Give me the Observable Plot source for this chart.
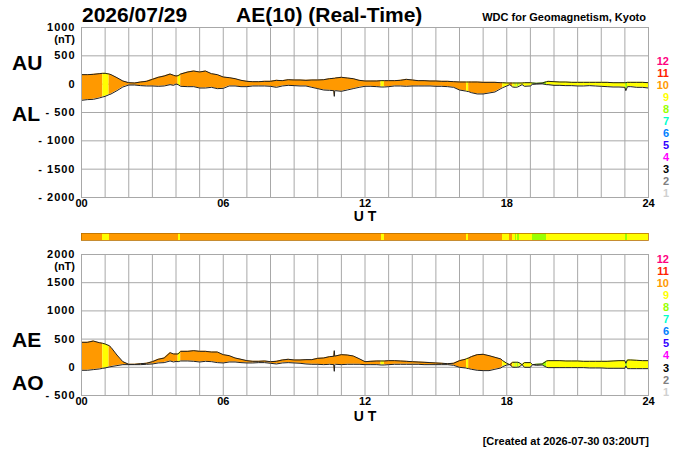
<!DOCTYPE html>
<html><head><meta charset="utf-8">
<script src="https://cdn.jsdelivr.net/npm/d3@7"></script>
<script src="https://cdn.jsdelivr.net/npm/@observablehq/plot@0.6"></script>
<style>
body{margin:0;background:#fff;}
#wrap{position:relative;width:700px;height:450px;overflow:hidden;background:#fff;}
#wrap svg{position:absolute;left:0;}
</style></head><body><div id="wrap"></div>
<script>
// ---- data (UT hours, nT) ----
const hours = [
  0,0.25,0.5,0.75,0.9,1,1.17,1.25,1.5,1.75,
  2,2.25,2.5,2.75,3,3.25,3.5,3.75,3.9,
  4,4.09,4.2,4.5,4.75,5,5.25,5.5,5.75,
  6,6.25,6.5,6.75,7,7.25,7.5,7.75,
  8,8.25,8.5,8.75,9,9.25,9.5,9.75,
  10,10.25,10.5,10.68,10.7,10.72,10.75,11,11.25,11.5,11.75,
  12,12.25,12.5,12.68,12.82,13,13.25,13.5,13.75,
  14,14.25,14.5,14.75,15,15.25,15.5,15.75,
  16,16.25,16.3,16.39,16.5,16.75,17,17.25,17.5,17.75,17.83,
  18,18.13,18.25,18.36,18.4,18.46,18.52,18.65,18.75,19,19.09,19.25,19.5,19.69,19.75,
  20,20.25,20.5,20.75,21,21.25,21.5,21.75,
  22,22.25,22.5,22.75,23,23.04,23.11,23.25,23.5,23.75,24
];
const au = [
  168,168,173,185,191,191,179,168,115,56,
  26,21,38,50,85,121,144,179,156,
  144,150,179,215,232,215,232,185,168,
  126,115,97,68,50,44,44,50,
  50,68,62,79,74,74,68,74,
  74,79,97,103,103,103,109,121,109,97,68,
  56,56,56,62,62,62,62,68,85,
  74,62,62,56,56,50,50,44,
  38,38,38,38,38,38,32,32,32,26,26,
  21,21,21,21,21,21,21,21,26,26,21,15,21,44,50,
  44,38,38,32,32,32,32,32,
  32,32,26,26,26,26,32,32,32,32,26
];
const al = [
  -285,-273,-268,-244,-226,-215,-185,-173,-115,-50,
  -15,-15,-26,-32,-32,-38,-32,-9,-21,
  3,-9,-38,-44,-44,-68,-68,-56,-79,
  -74,-32,-32,-44,-44,-32,-32,-32,
  -38,-56,-32,-21,-26,-32,-32,-56,
  -79,-103,-109,-115,-215,-115,-115,-126,-103,-79,-56,
  -38,-38,-44,-50,-50,-44,-32,-32,-38,
  -32,-32,-32,-32,-38,-38,-44,-56,
  -103,-121,-126,-132,-150,-173,-173,-156,-138,-79,-62,
  -32,-9,-50,-56,-56,-50,-38,-9,-38,-32,-3,3,9,-9,-9,
  -21,-21,-26,-26,-32,-32,-26,-32,
  -38,-44,-50,-50,-56,-115,-44,-44,-56,-56,-68
];
const ae = [
  443,443,466,437,425,413,384,354,218,100,
  53,53,65,71,100,142,165,260,236,
  236,236,283,283,295,283,283,271,271,
  224,207,165,142,118,106,106,112,
  100,106,130,142,130,130,136,136,
  159,165,189,195,295,195,201,224,218,201,153,
  100,106,112,112,112,118,118,112,106,
  100,94,89,83,77,71,65,71,
  118,142,153,165,189,224,230,207,177,148,118,
  71,47,89,89,89,89,83,47,83,83,47,53,59,112,118,
  118,118,112,112,112,106,106,106,
  106,106,112,118,118,71,130,130,124,118,118
];
const ao = [
  -53,-53,-41,-30,-18,-12,6,12,30,47,
  47,47,47,53,59,77,83,112,94,
  106,100,112,112,106,94,106,100,83,
  77,94,94,83,77,77,83,83,
  71,59,77,83,77,71,59,53,
  53,47,53,47,-71,47,53,47,53,53,53,
  47,47,47,41,41,47,53,53,53,
  53,53,47,47,47,47,47,35,
  0,-12,-18,-24,-35,-53,-59,-59,-35,-12,12,
  41,47,3,0,0,3,6,47,0,0,47,35,41,0,-6,
  -6,-6,-6,-6,-6,-6,-12,-12,
  -12,-18,-18,-18,-18,24,-24,-24,-24,-24,-24
];
// number of stations for the interval starting at each sample
const stations = [
  10,10,10,10,9,9,10,10,10,10,
  10,10,10,10,10,10,10,10,10,
  10,9,10,10,10,10,10,10,10,
  10,10,10,10,10,10,10,10,
  10,10,10,10,10,10,10,10,
  10,10,10,10,10,10,10,10,10,10,10,
  10,10,10,9,10,10,10,10,10,
  10,10,10,10,10,10,10,10,
  10,10,9,10,10,10,10,10,10,10,9,
  9,10,9,8,9,8,9,9,9,9,8,8,8,9,9,
  9,9,9,9,9,9,9,9,
  9,9,9,9,9,8,9,9,9,9,9
];
const hourTicks = [0,6,12,18,24];
const gridHours = [0,1,2,3,4,5,6,7,8,9,10,11,12,13,14,15,16,17,18,19,20,21,22,23,24];
const topTicks = [1000,500,0,-500,-1000,-1500,-2000];
const botTicks = [2000,1500,1000,500,0,-500];
const legendLevels = [12,11,10,9,8,7,6,5,4,3,2,1];
const levelColors = ["#ff0080","#ff2000","#ff9900","#ffff00","#99ff00","#00ffcc","#0080ff","#3300ff","#ff00ff","#000000","#808080","#d0d0d0"];

const N = hours.length;
[au,al,ae,ao,stations].forEach((a,k)=>{ if(a.length!==N) throw new Error("length mismatch "+k+": "+a.length+" vs "+N); });

const colorOf = n => levelColors[legendLevels.indexOf(n)];
const rows = hours.map((t,i)=>({t, au:au[i], al:al[i], ae:ae[i], ao:ao[i], n:stations[i]}));
// runs of equal station count (boundaries at samples)
const runRows = [];
let run = 0;
for (let i=0;i<N-1;i++){
  if (i>0 && stations[i]!==stations[i-1]) run++;
  runRows.push({...rows[i], run, n:stations[i]});
  if (i===N-2 || stations[i+1]!==stations[i]) runRows.push({...rows[i+1], run, n:stations[i]});
}
const intervals = rows.slice(0,-1).map((r,i)=>({t0:r.t, t1:rows[i+1].t, n:r.n}));

const FONT = '"Liberation Sans", Arial, Helvetica, sans-serif';
const GRID = "#a8a8a8";
const wrap = document.getElementById("wrap");

function panel(yDomain, ticks, hiKey, loKey, top, height, mt, mb){
  const svg = Plot.plot({
    width:700, height, marginLeft:81, marginRight:52, marginTop:mt, marginBottom:mb,
    style:{fontFamily:FONT, fontSize:"11px", fontWeight:"bold", background:"transparent", color:"#000", overflow:"visible"},
    x:{domain:[0,24], ticks:hourTicks, tickSize:0, tickPadding:2, tickFormat:d=>String(d).padStart(2,"0"), label:null},
    y:{domain:yDomain, ticks, tickSize:0, tickPadding:6, tickFormat:d=>d<0?"- "+(-d):String(d), label:null},
    color:{type:"identity"},
    marks:[
      Plot.ruleX(gridHours, {stroke:GRID, strokeWidth:1}),
      Plot.ruleY(ticks, {stroke:GRID, strokeWidth:1}),
      Plot.areaY(runRows, {x:"t", y1:loKey, y2:hiKey, z:"run", fill:d=>colorOf(d.n), curve:"linear"}),
      Plot.line(rows, {x:"t", y:hiKey, stroke:"#202020", strokeWidth:1}),
      Plot.line(rows, {x:"t", y:loKey, stroke:"#202020", strokeWidth:1}),
      Plot.frame({stroke:GRID})
    ]
  });
  svg.style.top = top+"px";
  d3.select(svg).selectAll('[aria-label^="y-axis"] text').attr("letter-spacing","1");
  wrap.appendChild(svg);
}
panel([-2000,1000], topTicks, "au", "al", 0, 230, 27, 33);
panel([-500,2000], botTicks, "ae", "ao", 225, 200, 29, 30);

// station-count colour bar
const bar = Plot.plot({
  width:700, height:15, marginLeft:81, marginRight:52, marginTop:5, marginBottom:3,
  style:{background:"transparent"},
  x:{domain:[0,24], axis:null}, y:{domain:[0,1], axis:null},
  color:{type:"identity"},
  marks:[
    Plot.rect(intervals, {x1:"t0", x2:"t1", y1:0, y2:1, fill:d=>colorOf(d.n), shapeRendering:"crispEdges"}),
    Plot.frame({stroke:"#b87000", strokeWidth:0.8})
  ]
});
bar.style.top = "228px";
wrap.appendChild(bar);

// text overlay
const ov = d3.select(wrap).append("svg").attr("width",700).attr("height",450)
  .style("top","0px").style("pointer-events","none")
  .attr("font-family",FONT).attr("font-weight","bold");
const T = (x,y,s,size,anchor="start",fill="#000")=>ov.append("text").attr("x",x).attr("y",y)
  .attr("font-size",size).attr("text-anchor",anchor).attr("fill",fill).text(s);
T(82,22,"2026/07/29",21);
T(236,22,"AE(10) (Real-Time)",21);
T(646,21,"WDC for Geomagnetism, Kyoto",11,"end");
T(75,43,"(nT)",11,"end");
T(75,269.5,"(nT)",11,"end");
T(12,70,"AU",21); T(12,121,"AL",21);
T(12,347,"AE",21); T(12,390,"AO",21);
T(365,221,"U T",14,"middle");
T(365,421,"U T",14,"middle");
legendLevels.forEach((lv,i)=>{
  T(669,60.7+12*i,String(lv),11,"end",levelColors[i]).attr("dy","0.36em");
  T(669,258.7+12.1*i,String(lv),11,"end",levelColors[i]).attr("dy","0.36em");
});
T(649,445,"[Created at 2026-07-30 03:20UT]",11,"end");
</script></body></html>
